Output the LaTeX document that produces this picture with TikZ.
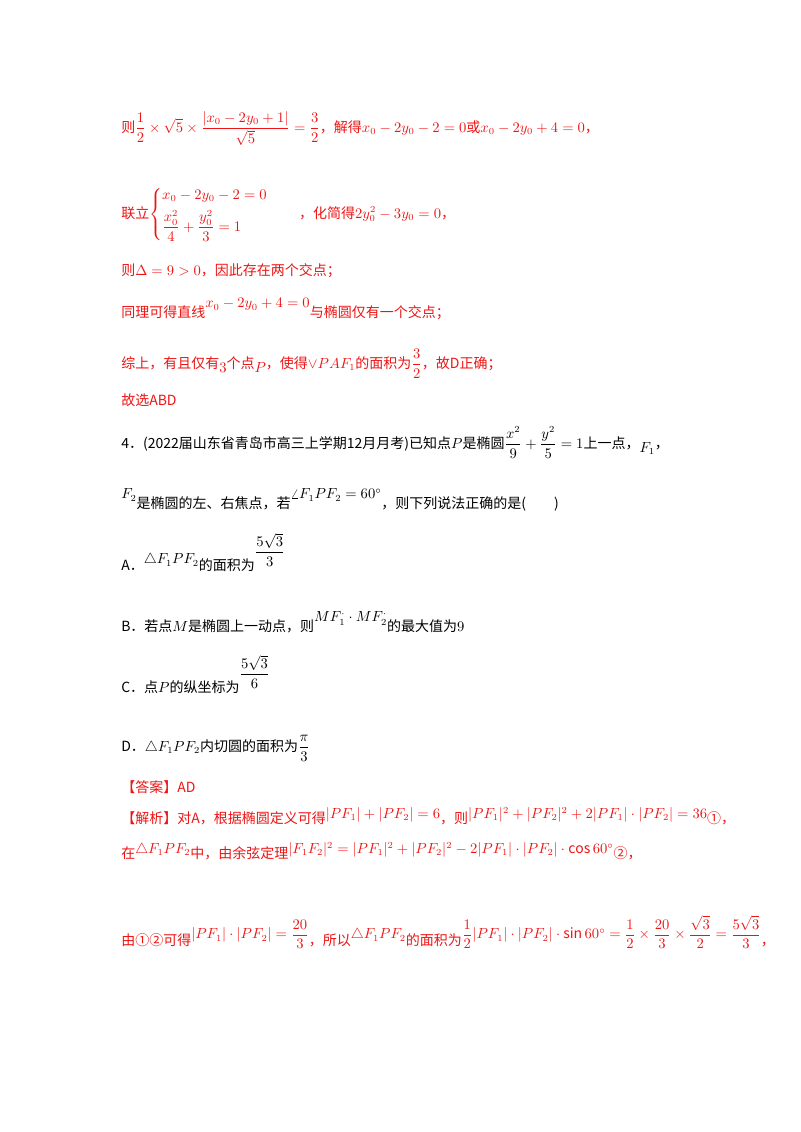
\documentclass[tikz,border=0pt]{standalone}
\usepackage{amsmath}
\usepackage{fontspec}
\setmainfont{Noto Sans CJK SC}
\definecolor{ans}{RGB}{238,20,20}
\begin{document}
\begin{tikzpicture}[x=0.75pt,y=-0.75pt,
  ln/.style={anchor=base west,inner sep=0pt,font=\fontsize{10.5}{13}\selectfont},
  rd/.style={ln,text=ans},
  bk/.style={ln,text=black}]
\useasboundingbox[fill=white] (0,0) rectangle (800,1132);
\node[rd] (l1) at (121,132) {则$\dfrac12\times\sqrt5\times\dfrac{\left|x_0-2y_0+1\right|}{\sqrt5}=\dfrac32$，解得$x_0-2y_0-2=0$或$x_0-2y_0+4=0$，};
\node[rd] (l2) at (121,218) {联立$\left\{\begin{aligned}&x_0-2y_0-2=0\\&\dfrac{x_0^2}{4}+\dfrac{y_0^2}{3}=1\end{aligned}\right.$\hspace{2.2em}，化简得$2y_0^2-3y_0=0$，};
\node[rd] (l3) at (121,275) {则$\Delta=9>0$，因此存在两个交点；};
\node[rd] (l4) at (121,317) {同理可得直线\raisebox{1.2ex}{$x_0-2y_0+4=0$}与椭圆仅有一个交点；};
\node[rd] (l5) at (121,368) {综上，有且仅有\raisebox{-0.6ex}{$3$}个点\raisebox{-0.6ex}{$P$}，使得$\vee PAF_1$的面积为$\dfrac32$，故D正确；};
\node[rd] (l6) at (121,405) {故选ABD};
\node[bk] (l7) at (121,448) {4．(2022届山东省青岛市高三上学期12月月考)已知点$P$是椭圆$\dfrac{x^2}{9}+\dfrac{y^2}{5}=1$上一点，\raisebox{-0.6ex}{$F_1$}，};
\node[bk] (l8) at (121,508) {\raisebox{1.2ex}{$F_2$}是椭圆的左、右焦点，若\raisebox{1.2ex}{$\angle F_1PF_2=60^\circ$}，则下列说法正确的是(\hspace{2em})};
\node[bk] (l9) at (121,570) {A．\raisebox{0.8ex}{$\triangle F_1PF_2$}的面积为\raisebox{1.8ex}{$\dfrac{5\sqrt3}{3}$}};
\node[bk] (l10) at (121,631) {B．若点$M$是椭圆上一动点，则\raisebox{1.2ex}{$MF_1^{\cdot}\cdot MF_2^{\cdot}$}的最大值为$9$};
\node[bk] (l11) at (121,692) {C．点$P$的纵坐标为\raisebox{1.8ex}{$\dfrac{5\sqrt3}{6}$}};
\node[bk] (l12) at (121,751) {D．$\triangle F_1PF_2$内切圆的面积为$\dfrac{\pi}{3}$};
\node[rd] (l13) at (121,792) {【答案】AD};
\node[rd] (l14) at (121,823) {【解析】对A，根据椭圆定义可得\raisebox{0.6ex}{$|PF_1|+|PF_2|=6$}，则\raisebox{0.6ex}{$|PF_1|^2+|PF_2|^2+2|PF_1|\cdot|PF_2|=36$}①，};
\node[rd] (l15) at (121,858) {在\raisebox{0.6ex}{$\triangle F_1PF_2$}中，由余弦定理\raisebox{0.6ex}{$|F_1F_2|^2=|PF_1|^2+|PF_2|^2-2|PF_1|\cdot|PF_2|\cdot\cos60^\circ$}②，};
\node[rd] (l16) at (121,945) {由①②可得\raisebox{0.8ex}{$|PF_1|\cdot|PF_2|=\dfrac{20}{3}$}，所以\raisebox{0.8ex}{$\triangle F_1PF_2$}的面积为\raisebox{0.8ex}{$\dfrac12|PF_1|\cdot|PF_2|\cdot\sin60^\circ=\dfrac12\times\dfrac{20}{3}\times\dfrac{\sqrt3}{2}=\dfrac{5\sqrt3}{3}$}，};
\end{tikzpicture}
\end{document}
